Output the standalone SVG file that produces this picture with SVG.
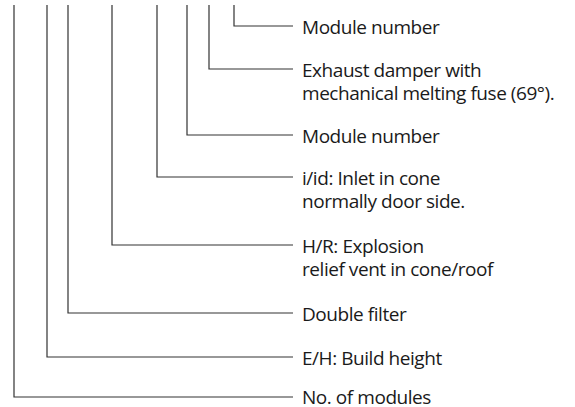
<svg xmlns="http://www.w3.org/2000/svg" width="575" height="407" viewBox="0 0 575 407">
<style>
.c{fill:none;stroke:#333;stroke-width:1.2}
.t{font-family:"Open Sans","Noto Sans",sans-serif;font-size:19px;letter-spacing:-0.45px;fill:#1a1a1a}
</style>
<rect width="575" height="407" fill="#fff"/>
<g id="connectors">
<polyline class="c" points="234,5 234,26 293,26"/>
<polyline class="c" points="209,5 209,69 293,69"/>
<polyline class="c" points="187,5 187,135 293,135"/>
<polyline class="c" points="157,5 157,177 293,177"/>
<polyline class="c" points="112,5 112,245 293,245"/>
<polyline class="c" points="68,5 68,313 293,313"/>
<polyline class="c" points="47,5 47,357 293,357"/>
<polyline class="c" points="14,5 14,397 293,397"/>
</g>
<g id="n1"><text class="t" x="302" y="33.5">Module number</text></g>
<g id="n2"><text class="t" x="302" y="76.5">Exhaust damper with<tspan x="302" dy="23">mechanical melting fuse (69°).</tspan></text></g>
<g id="n3"><text class="t" x="302" y="142.5">Module number</text></g>
<g id="n4"><text class="t" x="302" y="185">i/id: Inlet in cone<tspan x="302" dy="23">normally door side.</tspan></text></g>
<g id="n5"><text class="t" x="302" y="252.5">H/R: Explosion<tspan x="302" dy="23">relief vent in cone/roof</tspan></text></g>
<g id="n6"><text class="t" x="302" y="320.5">Double filter</text></g>
<g id="n7"><text class="t" x="302" y="364.5">E/H: Build height</text></g>
<g id="n8"><text class="t" x="302" y="403.5">No. of modules</text></g>
</svg>
